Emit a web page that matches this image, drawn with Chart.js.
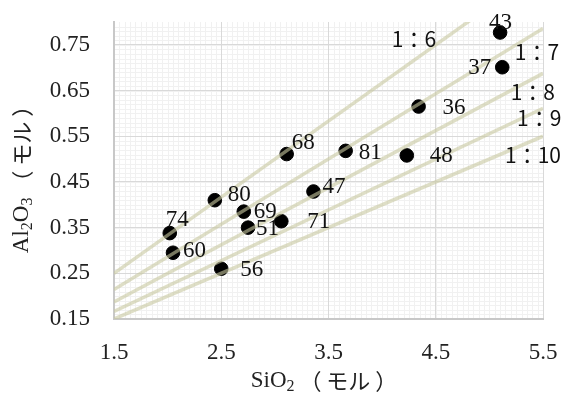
<!DOCTYPE html>
<html>
<head>
<meta charset="utf-8">
<script src="https://cdn.jsdelivr.net/npm/chart.js@4"></script>
<style>
  body { margin: 0; background: #fff; }
  #wrap { width: 565px; height: 394px; position: relative; }
</style>
</head>
<body>
<div id="wrap"><canvas id="chart"></canvas></div>
<script>
// sample points (SiO2, Al2O3 in mol) with their sample numbers
const sampleIds = ["43", "37", "36", "68", "81", "48", "47", "71", "80", "69", "51", "74", "60", "56"];
const sio2 = [5.10, 5.12, 4.34, 3.11, 3.66, 4.23, 3.36, 3.06, 2.44, 2.71, 2.75, 2.02, 2.05, 2.50];
const al2o3 = [0.777, 0.701, 0.615, 0.511, 0.518, 0.508, 0.429, 0.364, 0.410, 0.385, 0.350, 0.338, 0.295, 0.260];

// guide lines Al2O3 : SiO2 = 1 : n
const ratios = [6, 7, 8, 9, 10];
const ratioLabels = ["1：6", "1：7", "1：8", "1：9", "1：10"];
const lineX = [1.5, 5.5];

const xTicks = [1.5, 2.5, 3.5, 4.5, 5.5];
const yTicks = [0.15, 0.25, 0.35, 0.45, 0.55, 0.65, 0.75];

// label placement (pixel offsets from each point, left edge / middle)
const labelOffsets = [[-11, -10], [-34, 1], [24, 1], [5, -11], [13, 2], [23, 1], [9, -5],
  [26, 1], [13, -5], [10, 0], [8, 1], [-4, -13], [10, -2], [19, 1]];
// ratio label anchors in data units
const ratioPos = [[4.09, 0.762], [5.237, 0.734], [5.199, 0.647], [5.258, 0.589], [5.146, 0.508]];

const serif = '"Liberation Serif", "DejaVu Serif", serif';
const jp = '"Noto Sans CJK JP", "Noto Sans", sans-serif';

const datasets = ratios.map((r) => ({
  type: "line",
  data: lineX.map((x) => ({ x: x, y: x / r })),
  borderColor: "rgba(200, 200, 160, 0.6)",
  borderWidth: 3.5,
  pointRadius: 0,
  order: 0,
}));
datasets.push({
  type: "scatter",
  data: sio2.map((x, i) => ({ x: x, y: al2o3[i] })),
  backgroundColor: "#000",
  borderColor: "#000",
  pointRadius: 6.8,
  order: 1,
});

const minorGrid = {
  id: "minorGrid",
  beforeDraw(chart) {
    const { ctx, chartArea: a, scales } = chart;
    ctx.save();
    ctx.strokeStyle = "#f1f1f1";
    ctx.lineWidth = 1;
    ctx.beginPath();
    for (let v = 1.5; v < 5.5; v += 0.05) {
      const px = Math.round(scales.x.getPixelForValue(v)) + 0.5;
      ctx.moveTo(px, a.top); ctx.lineTo(px, a.bottom);
    }
    for (let v = 0.15; v < 0.8; v += 0.01) {
      const py = Math.round(scales.y.getPixelForValue(v)) + 0.5;
      ctx.moveTo(a.left, py); ctx.lineTo(a.right, py);
    }
    ctx.stroke();
    ctx.restore();
  },
};

const labels = {
  id: "labels",
  afterDraw(chart) {
    const { ctx, scales } = chart;
    const meta = chart.getDatasetMeta(datasets.length - 1);
    ctx.save();
    ctx.fillStyle = "#111";
    ctx.textBaseline = "middle";
    ctx.textAlign = "left";
    ctx.font = "23px " + serif;
    meta.data.forEach((pt, i) => {
      ctx.fillText(sampleIds[i], pt.x + labelOffsets[i][0], pt.y + labelOffsets[i][1]);
    });
    ctx.font = "21px " + jp;
    ratioLabels.forEach((t, i) => {
      ctx.fillText(t, scales.x.getPixelForValue(ratioPos[i][0]), scales.y.getPixelForValue(ratioPos[i][1]));
    });

    // axis titles with subscripts
    const drawTitle = (parts, cx, cy, rot) => {
      ctx.save();
      ctx.translate(cx, cy);
      ctx.rotate(rot);
      let w = 0;
      parts.forEach((p) => { ctx.font = p.font; w += ctx.measureText(p.t).width; });
      let x = -w / 2;
      parts.forEach((p) => {
        ctx.font = p.font;
        ctx.fillText(p.t, x, p.dy || 0);
        x += ctx.measureText(p.t).width;
      });
      ctx.restore();
    };
    ctx.fillStyle = "#222";
    const big = "23px " + serif, sub = "16px " + serif, kana = "22px " + jp;
    drawTitle([{ t: "SiO", font: big }, { t: "2", font: sub, dy: 6 }, { t: " （ モル ）", font: kana }], 324, 381, 0);
    drawTitle([{ t: "Al", font: big }, { t: "2", font: sub, dy: 6 }, { t: "O", font: big },
      { t: "3", font: sub, dy: 6 }, { t: " （ モル ）", font: kana }], 22, 174, -Math.PI / 2);
    ctx.restore();
  },
};

new Chart(document.getElementById("chart").getContext("2d"), {
  data: { datasets: datasets },
  options: {
    responsive: true,
    maintainAspectRatio: false,
    animation: false,
    layout: { autoPadding: false, padding: { top: 22, right: 22, left: 0, bottom: 0 } },
    plugins: { legend: { display: false }, tooltip: { enabled: false } },
    scales: {
      x: {
        type: "linear",
        min: 1.5,
        max: 5.5,
        afterBuildTicks: (s) => { s.ticks = xTicks.map((v) => ({ value: v })); },
        afterFit: (s) => { s.height = 75; s.paddingLeft = 0; s.paddingRight = 0; },
        ticks: { padding: 20, color: "#222", font: { family: serif, size: 23 }, callback: (v) => v.toFixed(1) },
        grid: { color: "#d9d9d9", drawTicks: false },
        border: { color: "#c8c8c8", width: 2 },
      },
      y: {
        type: "linear",
        min: 0.15,
        max: 0.8,
        afterBuildTicks: (s) => { s.ticks = yTicks.map((v) => ({ value: v })); },
        afterFit: (s) => { s.width = 114; s.paddingTop = 0; s.paddingBottom = 0; },
        ticks: { padding: 24, color: "#222", font: { family: serif, size: 23 }, callback: (v) => v.toFixed(2) },
        grid: { color: "#d9d9d9", drawTicks: false },
        border: { color: "#c8c8c8", width: 2 },
      },
    },
  },
  plugins: [minorGrid, labels],
});
</script>
</body>
</html>
